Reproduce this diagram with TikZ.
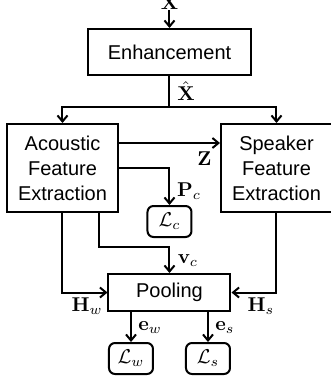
\documentclass[tikz,border=0pt]{standalone}
\usepackage[no-math]{fontspec}
\setmainfont{Liberation Sans}
\usetikzlibrary{arrows.meta,calc}
\begin{document}
\begin{tikzpicture}[x=0.5pt,y=-0.5pt]
\tikzset{
  blk/.style={draw,line width=1pt,inner sep=0pt,align=center,font=\fontsize{10}{12.5}\selectfont},
  lossbox/.style={draw,line width=1pt,rounded corners=3pt,inner sep=0pt,minimum width=22pt,minimum height=15.5pt},
  conn/.style={line width=1pt,-{Straight Barb[length=3pt,width=5pt]}},
  plain/.style={line width=1pt},
  lab/.style={inner sep=0pt}
}
\useasboundingbox (0,0) rectangle (331,387);
% nodes
\node[lab] (x) at (169.5,3) {$\mathbf{X}$};
\node[blk,minimum width=81.5pt,minimum height=23pt] (enh) at (169.5,52) {Enhancement};
\node[blk,minimum width=55.5pt,minimum height=44pt] (ac) at (62.5,168) {Acoustic\\Feature\\Extraction};
\node[blk,minimum width=55.5pt,minimum height=44pt] (sp) at (276.5,168) {Speaker\\Feature\\Extraction};
\node[lossbox] (lc) at (169.5,221.5) {$\mathcal{L}_c$};
\node[blk,minimum width=61pt,minimum height=18.5pt] (pool) at (169.5,292.5) {Pooling};
\node[lossbox] (lw) at (131,358.5) {$\mathcal{L}_w$};
\node[lossbox] (ls) at (208,358.5) {$\mathcal{L}_s$};
\coordinate (br) at (169.5,107);
\coordinate (zs) at (118,143);
\coordinate (vc) at (99,212);
\coordinate (vcb) at (99,247);
% labels
\node[lab] (xh) at (186,91) {$\hat{\mathbf{X}}$};
\node[lab] (zl) at (204.5,158.5) {$\mathbf{Z}$};
\node[lab] (pl) at (189,191) {$\mathbf{P}_c$};
\node[lab] (vl) at (188,261) {$\mathbf{v}_c$};
\node[lab] (hwl) at (87,306) {$\mathbf{H}_w$};
\node[lab] (hsl) at (261,306) {$\mathbf{H}_s$};
\node[lab] (ewl) at (150,328) {$\mathbf{e}_w$};
\node[lab] (esl) at (225,328) {$\mathbf{e}_s$};
% connectors
\draw[conn] (x.south) -- (enh.north);
\draw[plain] (enh.south) -- (br);
\draw[conn] (br) -| (ac.north);
\draw[conn] (br) -| (sp.north);
\draw[conn] (ac.east |- zs) -- (sp.west |- zs);
\draw[conn] (ac.east) -| (lc.north);
\draw[conn] (vc) -- (vcb) -| (pool.north);
\draw[conn] (ac.south) |- (pool.west);
\draw[conn] (sp.south) |- (pool.east);
\draw[conn] (pool.south -| lw.north) -- (lw.north);
\draw[conn] (pool.south -| ls.north) -- (ls.north);
\end{tikzpicture}
\end{document}
